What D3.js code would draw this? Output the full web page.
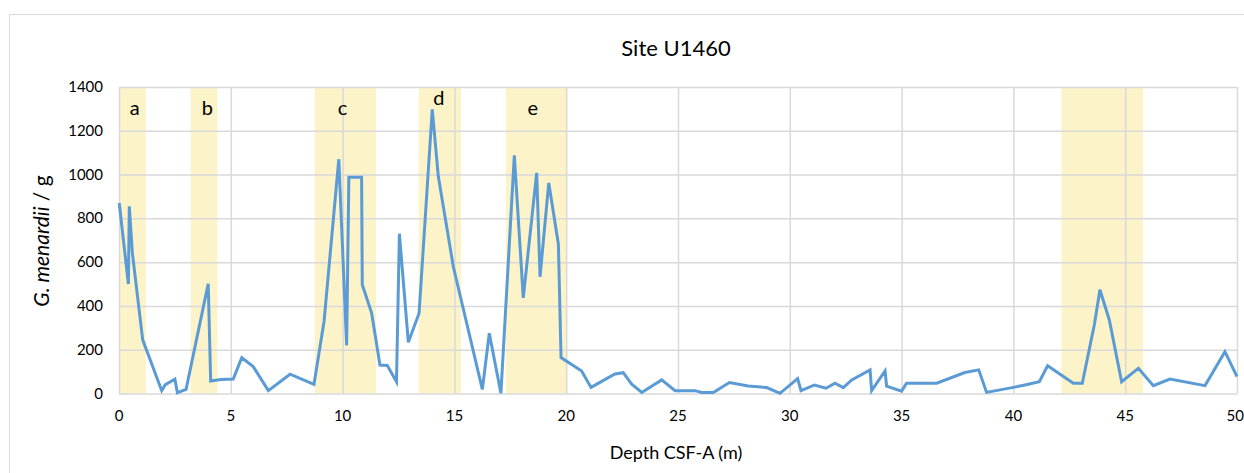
<!DOCTYPE html>
<html>
<head>
<meta charset="utf-8">
<script src="https://cdn.jsdelivr.net/npm/d3@7"></script>
<style>
  body { margin: 0; background: #fff; }
  text { font-family: Lato, "Open Sans", sans-serif; fill: #000; }
</style>
</head>
<body>
<div id="chart"></div>
<script>
// profondeur (m) et nombre de G. menardii par gramme
const depth = [0.01, 0.42, 0.46, 0.6, 1.06, 1.91, 2.06, 2.5, 2.61, 3.0, 3.99, 4.1, 4.55, 5.11, 5.49, 6.0, 6.68, 7.65, 8.72,
  9.17, 9.83, 10.18, 10.28, 10.85, 10.88, 11.3, 11.67, 12.0, 12.41, 12.54, 12.94, 13.42, 14.01, 14.28, 14.95, 16.25, 16.56,
  17.08, 17.68, 18.08, 18.68, 18.83, 19.22, 19.65, 19.77, 20.69, 21.11, 22.18, 22.55, 22.93, 23.38, 24.27, 24.87, 25.76,
  26.06, 26.58, 27.3, 28.14, 28.97, 29.56, 30.35, 30.5, 31.1, 31.62, 32.02, 32.39, 32.77, 33.59, 33.66, 34.26, 34.33,
  35.0, 35.22, 36.57, 37.83, 38.45, 38.8, 40.0, 40.52, 41.16, 41.53, 42.68, 43.08, 43.62, 43.87, 44.29, 44.84, 45.59,
  46.26, 47.0, 48.57, 49.46, 50.0];
const menardii = [870, 500, 855, 640, 245, 13, 39, 66, 4, 19, 501, 57, 64, 66, 164, 123, 13, 88, 42,
  329, 1070, 220, 988, 988, 497, 367, 130, 128, 54, 730, 234, 367, 1298, 992, 580, 19, 275,
  1, 1088, 437, 1008, 533, 962, 683, 164, 103, 28, 89, 95, 43, 5, 62, 13, 13,
  5, 5, 50, 34, 27, 1, 68, 13, 39, 24, 47, 27, 62, 108, 13, 103, 34,
  11, 47, 47, 96, 108, 5, 28, 39, 54, 127, 47, 47, 314, 474, 336, 54, 115,
  36, 66, 36, 191, 77];

// intervalles surlignés (début, fin, étiquette)
const bandStart = [0, 3.2, 8.75, 13.4, 17.3, 42.15];
const bandEnd = [1.2, 4.4, 11.5, 15.3, 20.0, 45.8];
const bandLabel = ["a", "b", "c", "d", "e", ""];
const bandLabelAt = [0.7, 3.95, 10.0, 14.3, 18.5, 0];

const xTicks = [0, 5, 10, 15, 20, 25, 30, 35, 40, 45, 50];
const yTicks = [0, 200, 400, 600, 800, 1000, 1200, 1400];

const width = 1244, height = 473;
const margin = {top: 87, right: 7, bottom: 80, left: 119};

const svg = d3.select("#chart").append("svg")
    .attr("width", width)
    .attr("height", height);

// bordure extérieure du graphique
svg.append("rect")
    .attr("x", 9.5).attr("y", 14.5)
    .attr("width", width + 10).attr("height", height + 10)
    .attr("fill", "#fff").attr("stroke", "#d9d9d9");

const x = d3.scaleLinear().domain([0, 50]).range([margin.left, width - margin.right]);
const y = d3.scaleLinear().domain([0, 1400]).range([height - margin.bottom + 0.5, margin.top]);

// bandes jaunes
svg.append("g").selectAll("rect")
    .data(bandStart)
    .join("rect")
    .attr("x", (d) => x(d))
    .attr("y", y(1400))
    .attr("width", (d, i) => x(bandEnd[i]) - x(d))
    .attr("height", y(0) - y(1400))
    .attr("fill", "#fcf3c9");

// grille
svg.append("g")
    .attr("transform", `translate(0,${y(0)})`)
    .call(d3.axisBottom(x).tickValues(xTicks).tickSize(-(y(0) - y(1400))).tickFormat(""))
    .call((g) => g.select(".domain").remove())
    .call((g) => g.selectAll("line").attr("stroke", "#d9d9d9").attr("stroke-width", 1.5));

svg.append("g")
    .attr("transform", `translate(${x(0)},0)`)
    .call(d3.axisLeft(y).tickValues(yTicks).tickSize(-(x(50) - x(0))).tickFormat(""))
    .call((g) => g.select(".domain").remove())
    .call((g) => g.selectAll("line").attr("stroke", "#d9d9d9").attr("stroke-width", 1.5));

// libellés des axes
svg.append("g").selectAll("text")
    .data(xTicks)
    .join("text")
    .attr("x", (d) => x(d))
    .attr("y", y(0) + 27)
    .attr("text-anchor", (d) => d === 50 ? "end" : "middle")
    .attr("dx", (d) => d === 50 ? 7 : 0)
    .attr("font-size", 15)
    .text((d) => d);

svg.append("g").selectAll("text")
    .data(yTicks)
    .join("text")
    .attr("x", x(0) - 16)
    .attr("y", (d) => y(d) + 5)
    .attr("text-anchor", "end")
    .attr("font-size", 15)
    .text((d) => d);

// étiquettes des bandes
svg.append("g").selectAll("text")
    .data(bandLabel.filter((d) => d))
    .join("text")
    .attr("x", (d, i) => x(bandLabelAt[i]))
    .attr("y", (d) => d === "d" ? 105 : 115)
    .attr("text-anchor", "middle")
    .attr("font-size", 20)
    .text((d) => d);

// courbe
const line = d3.line()
    .x((d, i) => x(depth[i]))
    .y((d) => y(d));

svg.append("path")
    .datum(menardii)
    .attr("d", line)
    .attr("fill", "none")
    .attr("stroke", "#5b9bd5")
    .attr("stroke-width", 3)
    .attr("stroke-linejoin", "miter");

// titres
svg.append("text")
    .attr("x", 676).attr("y", 56)
    .attr("text-anchor", "middle")
    .attr("font-size", 22)
    .text("Site U1460");

svg.append("text")
    .attr("x", 676).attr("y", 459)
    .attr("text-anchor", "middle")
    .attr("font-size", 18)
    .text("Depth CSF-A (m)");

const yt = svg.append("text")
    .attr("transform", "translate(49,241) rotate(-90)")
    .attr("text-anchor", "middle")
    .attr("font-size", 21);
yt.append("tspan").attr("font-style", "italic").text("G. menardii");
yt.append("tspan").text(" / g");
</script>
</body>
</html>
